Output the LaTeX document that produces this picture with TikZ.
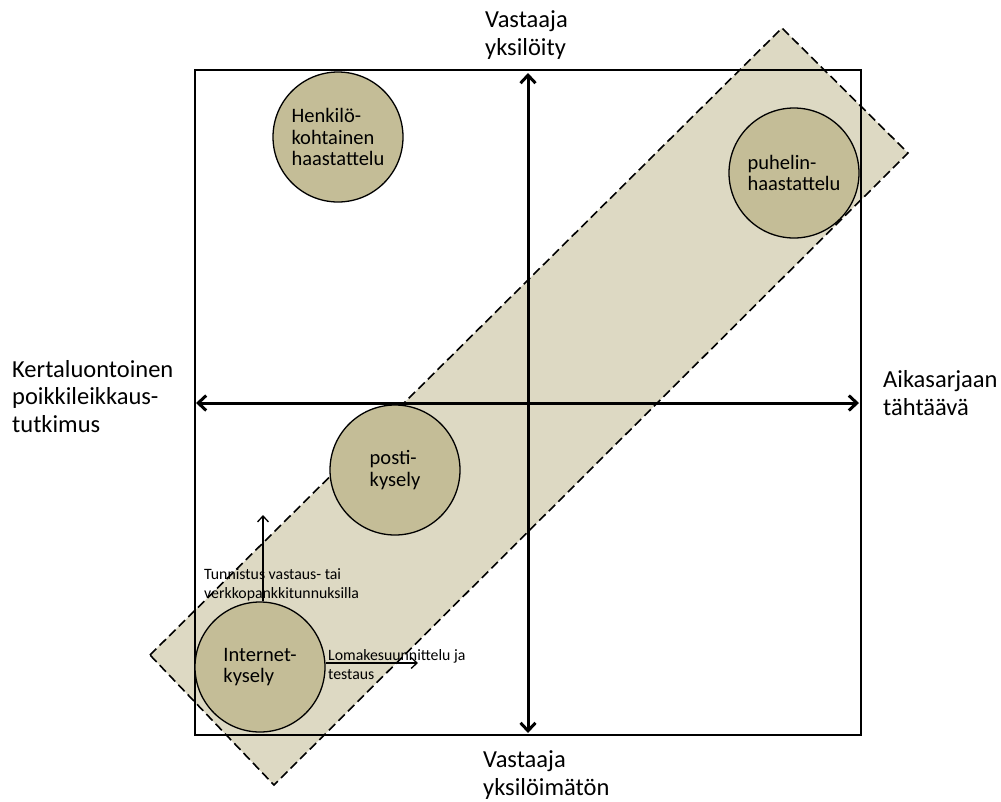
\documentclass[tikz,border=0pt]{standalone}
\usepackage{fontspec}
\setmainfont{Carlito}
\usetikzlibrary{arrows.meta}
\definecolor{band}{RGB}{221,217,195}
\definecolor{disc}{RGB}{196,189,151}
\tikzset{
  barb/.tip={Straight Barb[length=8pt,width=15pt,line width=3pt]},
  axis/.style={line width=3pt,barb-barb},
  small arrow/.style={line width=1.3pt,-{Straight Barb[length=6pt,width=11pt,line width=1.3pt]}},
  method/.style={circle,draw,line width=1.3pt,fill=disc,minimum size=130pt,inner sep=0pt,align=left,font=\fontsize{20.5}{21.5}\selectfont},
  axislabel/.style={font=\fontsize{24.5}{27.5}\selectfont,inner sep=0pt,align=left,anchor=base west},
  note/.style={font=\fontsize{15.8}{18.5}\selectfont,inner sep=0pt,align=left,anchor=base west}
}
\begin{document}
\begin{tikzpicture}[x=1pt,y=-1pt]
\useasboundingbox (0,0) rectangle (1001,801);
% band
\draw[fill=band,dash pattern=on 9pt off 4.5pt,line width=1.6pt]
  (150,655) -- (782,28) -- (908,153) -- (274,785) -- cycle;
% square
\draw[line width=1.2pt] (195,70) rectangle (861,735);
% axes
\coordinate (vtop) at (528,73);
\coordinate (vbot) at (528,733);
\coordinate (hleft) at (196,403);
\coordinate (hright) at (859,403);
\draw[axis] (vtop) -- (vbot);
\draw[axis] (hleft) -- (hright);
% circles
\node[method] (henk) at (338,137) {Henkilö-\\kohtainen\\haastattelu};
\node[method] (puh) at (794,173) {puhelin-\\haastattelu};
\node[method] (posti) at (395,470) {posti-\\kysely};
\node[method] (inet) at (260,667) {Internet-\\kysely};
% small arrows
\coordinate (upend) at (263,515);
\coordinate (rightend) at (418,663);
\draw[small arrow] (inet.north -| upend) -- (upend);
\draw[small arrow] (inet.east |- rightend) -- (rightend);
% notes
\node[note] (n1) at (204,598) {Tunnistus vastaus- tai\\verkkopankkitunnuksilla};
\node[note] (n2) at (328,679) {Lomakesuunnittelu ja\\testaus};
% axis labels
\node[axislabel] (top) at (485,55) {Vastaaja\\yksilöity};
\node[axislabel] (bot) at (483,795) {Vastaaja\\yksilöimätön};
\node[axislabel] (left) at (12,432) {Kertaluontoinen\\poikkileikkaus-\\tutkimus};
\node[axislabel] (right) at (883,415) {Aikasarjaan\\tähtäävä};
\end{tikzpicture}
\end{document}
